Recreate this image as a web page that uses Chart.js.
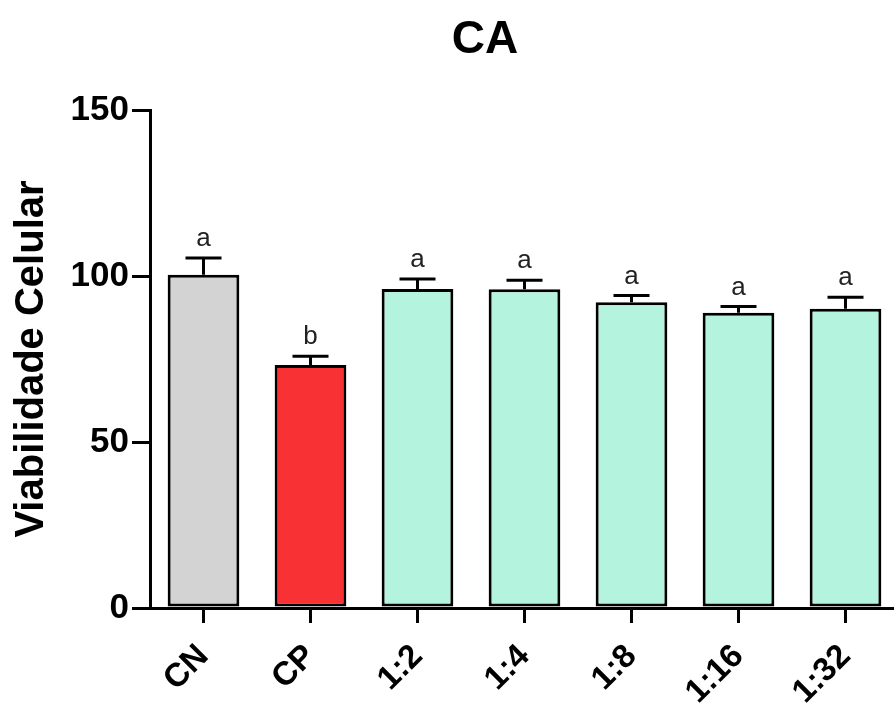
<!DOCTYPE html>
<html>
<head>
<meta charset="utf-8">
<script src="https://cdn.jsdelivr.net/npm/chart.js@4"></script>
<style>
  html, body { margin: 0; padding: 0; background: #fff; overflow: hidden; }
  #wrap { width: 894px; height: 704px; overflow: hidden; position: relative; }
  #wrap canvas { position: absolute; left: 0; top: 0; }
</style>
</head>
<body>
<div id="wrap"><canvas id="grafico" width="900" height="704"></canvas></div>
<script>
// datos
const categorias = ['CN', 'CP', '1:2', '1:4', '1:8', '1:16', '1:32'];
const medias = [100.4, 73.2, 96.1, 96.0, 92.1, 88.9, 90.1];
const errores = [5.0, 2.6, 3.0, 2.7, 2.0, 1.9, 3.5];
const letras = ['a', 'b', 'a', 'a', 'a', 'a', 'a'];
const coresBarras = ['#d3d3d3', '#f83234', '#b4f3dd', '#b4f3dd', '#b4f3dd', '#b4f3dd', '#b4f3dd'];
const ticksY = [0, 50, 100, 150];
const titulo = 'CA';

const FONTE = '"Liberation Sans", Arial, sans-serif';

// titulo (un poco corrido a la izquierda del centro del area)
const tituloPlugin = {
  id: 'tituloPlugin',
  afterDraw(chart) {
    const ctx = chart.ctx;
    ctx.save();
    ctx.fillStyle = '#000';
    ctx.font = 'bold 46px ' + FONTE;
    ctx.textAlign = 'center';
    ctx.textBaseline = 'alphabetic';
    ctx.fillText(titulo, 485, 53);
    ctx.restore();
  }
};

// barras de error + letras
const barrasError = {
  id: 'barrasError',
  afterDatasetsDraw(chart) {
    const ctx = chart.ctx;
    const y = chart.scales.y;
    const meta = chart.getDatasetMeta(0);
    ctx.save();
    ctx.strokeStyle = '#000';
    ctx.lineWidth = 3;
    ctx.fillStyle = '#222';
    ctx.font = '26px ' + FONTE;
    ctx.textAlign = 'center';
    ctx.textBaseline = 'alphabetic';
    meta.data.forEach((barra, i) => {
      const x = barra.x;
      const yBase = y.getPixelForValue(medias[i]);
      const yTop = y.getPixelForValue(medias[i] + errores[i]);
      ctx.beginPath();
      ctx.moveTo(x, yBase);
      ctx.lineTo(x, yTop);
      ctx.moveTo(x - 18, yTop);
      ctx.lineTo(x + 18, yTop);
      ctx.stroke();
      ctx.fillText(letras[i], x, yTop - 12);
    });
    ctx.restore();
  }
};

new Chart(document.getElementById('grafico'), {
  type: 'bar',
  data: {
    labels: categorias,
    datasets: [{
      data: medias,
      backgroundColor: coresBarras,
      borderColor: '#000',
      borderWidth: 3,
      borderSkipped: false,
      categoryPercentage: 1,
      barPercentage: 0.67
    }]
  },
  options: {
    responsive: false,
    animation: false,
    devicePixelRatio: 1,
    layout: { padding: { top: 110, right: 1, left: 0, bottom: 0 } },
    plugins: {
      legend: { display: false },
      tooltip: { enabled: false },
      title: { display: false }
    },
    scales: {
      x: {
        offset: true,
        grid: { display: true, drawOnChartArea: false, drawTicks: true, tickLength: 15, color: '#000', lineWidth: 3, offset: false },
        border: { display: true, color: '#000', width: 3 },
        ticks: {
          color: '#000',
          font: { family: FONTE, size: 33, weight: 'bold' },
          minRotation: 45,
          maxRotation: 45,
          padding: 14
        },
        afterFit(scale) { scale.height = 96; }
      },
      y: {
        min: 0,
        max: 150,
        afterBuildTicks(scale) { scale.ticks = ticksY.map(v => ({ value: v })); },
        grid: { display: true, drawOnChartArea: false, drawTicks: true, tickLength: 18, color: '#000', lineWidth: 3 },
        border: { display: true, color: '#000', width: 3 },
        ticks: {
          color: '#000',
          font: { family: FONTE, size: 35, weight: 'bold' },
          padding: 3
        },
        title: {
          display: true,
          text: 'Viabilidade Celular',
          color: '#000',
          font: { family: FONTE, size: 40, weight: 'bold' },
          padding: { top: 8, bottom: 4 }
        },
        afterFit(scale) { scale.width = 150; }
      }
    }
  },
  plugins: [barrasError, tituloPlugin]
});
</script>
</body>
</html>
